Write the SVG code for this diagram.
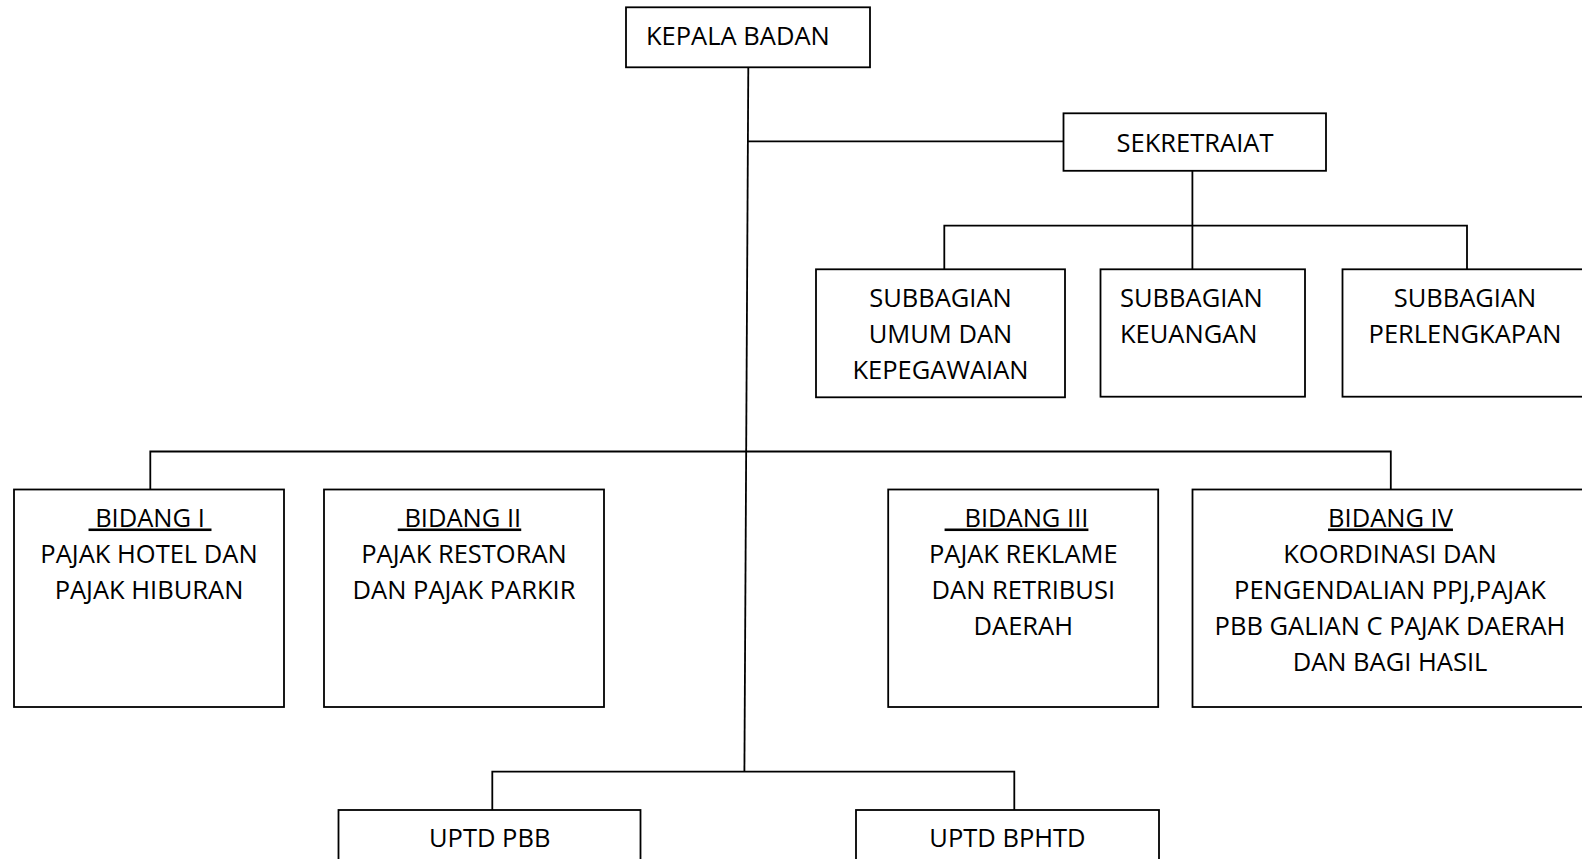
<svg xmlns="http://www.w3.org/2000/svg" width="1582" height="859" viewBox="0 0 1582 859">
<style>
  .box { fill: #fff; stroke: #000; stroke-width: 1.8; }
  .conn { fill: none; stroke: #000; stroke-width: 1.8; }
  text { font-family: "Open Sans", "Noto Sans", "Liberation Sans", sans-serif; font-size: 25.5px; fill: #000; }
  .c { text-anchor: middle; }
  .u { text-decoration: underline; white-space: pre; }
</style>
<rect width="1582" height="859" fill="#fff"/>
<g id="connectors">
  <line class="conn" x1="748.3" y1="67" x2="744.4" y2="771.7"/>
  <line class="conn" x1="747.9" y1="141.3" x2="1063.5" y2="141.3"/>
  <line class="conn" x1="1192.4" y1="171" x2="1192.4" y2="269.3"/>
  <polyline class="conn" points="944.3,269.3 944.3,225.7 1467,225.7 1467,269.3"/>
  <polyline class="conn" points="150.3,489.3 150.3,451.5 1390.8,451.5 1390.8,489.3"/>
  <polyline class="conn" points="492.3,810 492.3,771.7 1014.3,771.7 1014.3,810"/>
</g>
<g id="kepala-badan">
  <rect class="box" x="626" y="7.3" width="244" height="60"/>
  <text x="646" y="45">KEPALA BADAN</text>
</g>
<g id="sekretariat">
  <rect class="box" x="1063.5" y="113.3" width="262.5" height="57.5"/>
  <text class="c" x="1195" y="151.5">SEKRETRAIAT</text>
</g>
<g id="subbagian-umum">
  <rect class="box" x="816" y="269.3" width="249" height="128"/>
  <text class="c" x="940.5" y="306.7">SUBBAGIAN</text>
  <text class="c" x="940.5" y="342.7">UMUM DAN</text>
  <text class="c" x="940.5" y="378.7">KEPEGAWAIAN</text>
</g>
<g id="subbagian-keuangan">
  <rect class="box" x="1100.5" y="269.3" width="204.5" height="127.4"/>
  <text x="1120" y="306.7">SUBBAGIAN</text>
  <text x="1120" y="342.7">KEUANGAN</text>
</g>
<g id="subbagian-perlengkapan">
  <rect class="box" x="1342.5" y="269.3" width="260" height="127.4"/>
  <text class="c" x="1465" y="306.7">SUBBAGIAN</text>
  <text class="c" x="1465" y="342.7">PERLENGKAPAN</text>
</g>
<g id="bidang-1">
  <rect class="box" x="14" y="489.5" width="270" height="217.5"/>
  <text class="c u" x="150" y="526.5" xml:space="preserve"> BIDANG I </text>
  <text class="c" x="149" y="562.5">PAJAK HOTEL DAN</text>
  <text class="c" x="149" y="598.5">PAJAK HIBURAN</text>
</g>
<g id="bidang-2">
  <rect class="box" x="324" y="489.5" width="280" height="217.5"/>
  <text class="c u" x="459.5" y="526.5" xml:space="preserve"> BIDANG II</text>
  <text class="c" x="464" y="562.5">PAJAK RESTORAN</text>
  <text class="c" x="464" y="598.5">DAN PAJAK PARKIR</text>
</g>
<g id="bidang-3">
  <rect class="box" x="888.2" y="489.5" width="270" height="217.5"/>
  <text class="c u" x="1016.5" y="526.5" xml:space="preserve">   BIDANG III</text>
  <text class="c" x="1023.3" y="562.5">PAJAK REKLAME</text>
  <text class="c" x="1023.3" y="598.5">DAN RETRIBUSI</text>
  <text class="c" x="1023.3" y="634.5">DAERAH</text>
</g>
<g id="bidang-4">
  <rect class="box" x="1192.5" y="489.5" width="410" height="217.5"/>
  <text class="c u" x="1390.5" y="526.5">BIDANG IV</text>
  <text class="c" x="1390" y="562.5">KOORDINASI DAN</text>
  <text class="c" x="1390" y="598.5">PENGENDALIAN PPJ,PAJAK</text>
  <text class="c" x="1390" y="634.5">PBB GALIAN C PAJAK DAERAH</text>
  <text class="c" x="1390" y="670.5">DAN BAGI HASIL</text>
</g>
<g id="uptd-pbb">
  <rect class="box" x="338.5" y="810" width="302" height="80"/>
  <text class="c" x="489.7" y="847">UPTD PBB</text>
</g>
<g id="uptd-bphtd">
  <rect class="box" x="856" y="810" width="303" height="80"/>
  <text class="c" x="1007.5" y="847">UPTD BPHTD</text>
</g>
</svg>
